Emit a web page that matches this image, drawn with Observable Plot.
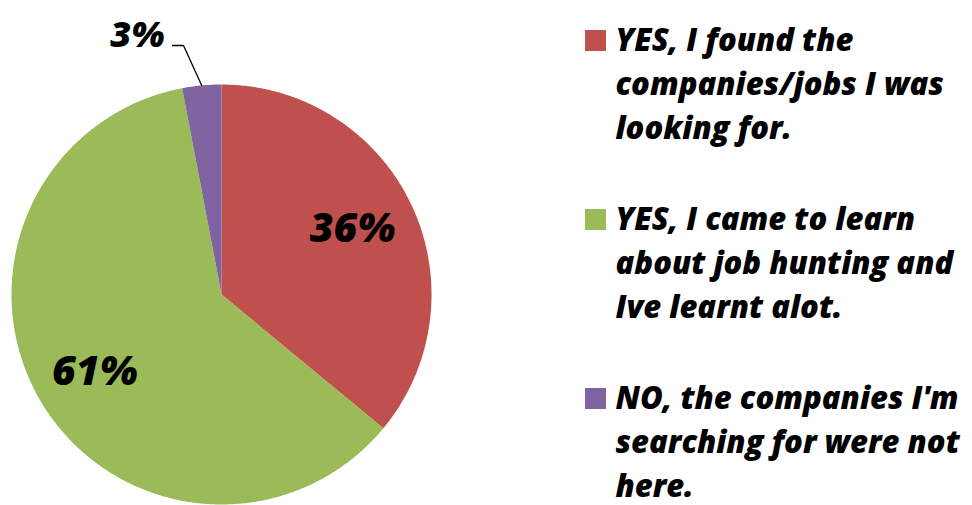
<!DOCTYPE html>
<html>
<head>
<meta charset="utf-8">
<script src="https://cdn.jsdelivr.net/npm/d3@7"></script>
<script src="https://cdn.jsdelivr.net/npm/@observablehq/plot@0.6"></script>
<style>
  html, body { margin: 0; padding: 0; background: #fff; }
  #chart svg { display: block; }
</style>
</head>
<body>
<div id="chart"></div>
<script>
// ---- data ----
const categories = [
  "YES, I found the\ncompanies/jobs I was\nlooking for.",
  "YES, I came to learn\nabout job hunting and\nIve learnt alot.",
  "NO, the companies I'm\nsearching for were not\nhere."
];
const values = [36, 61, 3];
const percentLabels = ["36%", "61%", "3%"];
const colors = ["#C0504D", "#9BBB59", "#8064A2"];

// ---- layout ----
const W = 972, H = 505;
const cx = 221, cy = 294, R = 210;
const FONT = "'Open Sans', Lato, sans-serif";

const arcs = d3.pie().sort(null).value(d => d)(values);

// slice outlines (geometry sampled along each arc)
const slicePts = [];
arcs.forEach((a, i) => {
  slicePts.push({x: cx, y: cy, k: i});
  const n = Math.max(2, Math.ceil((a.endAngle - a.startAngle) / (Math.PI / 360)));
  for (let j = 0; j <= n; j++) {
    const t = a.startAngle + (a.endAngle - a.startAngle) * j / n;
    slicePts.push({x: cx + R * Math.sin(t), y: cy - R * Math.cos(t), k: i});
  }
  slicePts.push({x: cx, y: cy, k: i});
});

// inside labels for big slices
const inner = arcs.slice(0, 2).map((a, i) => {
  const m = (a.startAngle + a.endAngle) / 2, f = 0.69;
  return {x: cx + f * R * Math.sin(m) - 2 * i, y: cy - f * R * Math.cos(m) - 4 + 8 * i, t: percentLabels[i]};
});

// outside label with leader for small slice
const small = arcs[2];
const sm = (small.startAngle + small.endAngle) / 2;
const p0 = {x: cx + R * Math.sin(sm), y: cy - R * Math.cos(sm)};
const leader = [p0, {x: 183, y: 45}, {x: 172, y: 45}];

// legend
const legend = categories.map((c, i) => ({i, c, y: 30 + i * 179}));
const LFS = 31;

const plot = Plot.plot({
  width: W, height: H,
  margin: 0,
  x: {domain: [0, W], range: [0, W], axis: null},
  y: {domain: [0, H], range: [0, H], axis: null},
  style: {fontFamily: FONT, background: "white"},
  marks: [
    Plot.line(slicePts, {x: "x", y: "y", z: "k", fill: d => colors[d.k], stroke: "none"}),
    Plot.text(inner, {x: "x", y: "y", text: "t", fontSize: 41, fontWeight: 800, fontStyle: "italic", fill: "black", textAnchor: "middle", lineAnchor: "middle"}),
    Plot.line(leader, {x: "x", y: "y", stroke: "black", strokeWidth: 1.3}),
    Plot.text([{x: 164, y: 46, t: percentLabels[2]}], {x: "x", y: "y", text: "t", fontSize: 36, fontWeight: 800, fontStyle: "italic", fill: "black", textAnchor: "end", lineAnchor: "bottom"}),
    Plot.rect(legend, {x1: 585, x2: 606, y1: "y", y2: d => d.y + 21, fill: d => colors[d.i]}),
    Plot.text(legend, {x: 615, y: d => d.y + 19 - 0.97 * LFS, text: "c", fontSize: LFS, fontWeight: 800, fontStyle: "italic", fill: "black", textAnchor: "start", lineAnchor: "top", lineHeight: 44 / LFS})
  ]
});
document.getElementById("chart").appendChild(plot);
</script>
</body>
</html>
